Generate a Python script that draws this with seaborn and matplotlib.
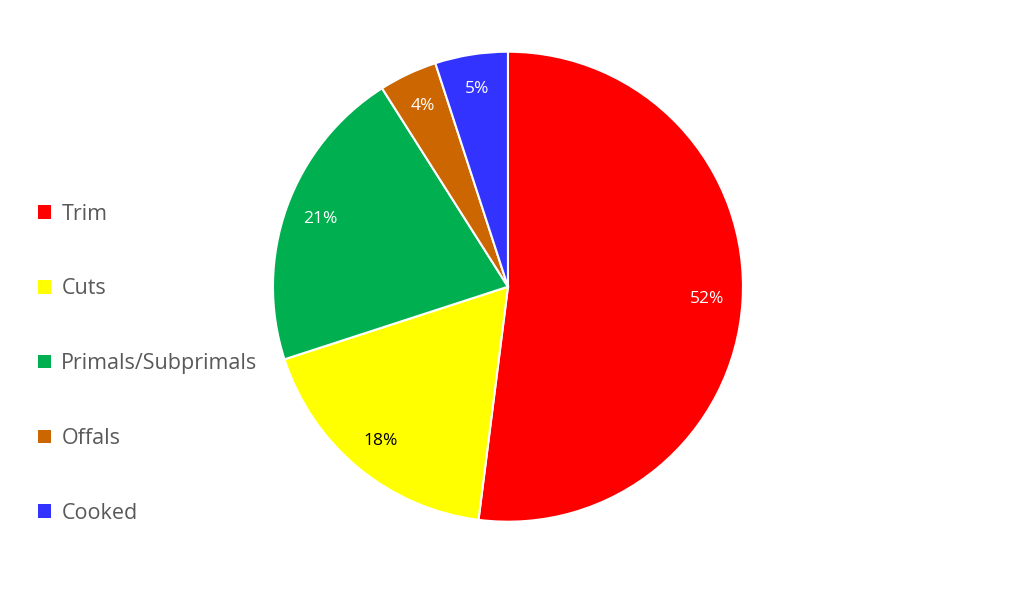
import matplotlib
matplotlib.use("Agg")
import matplotlib.pyplot as plt
from matplotlib.patches import Patch
import seaborn as sns

sns.set_theme(style="white")
plt.rcParams['font.family'] = ['Open Sans', 'DejaVu Sans']

categories = ["Trim", "Cuts", "Primals/Subprimals", "Offals", "Cooked"]
values = [52, 18, 21, 4, 5]
colors = ["#FF0000", "#FFFF00", "#00B050", "#CC6600", "#3333FF"]
text_colors = ["white", "black", "white", "white", "white"]

fig = plt.figure(figsize=(10.14, 6.14), dpi=100)
ax = fig.add_axes([0.501 - 0.2318, 0.533 - 0.3827, 0.4635, 0.7655])
wedges, texts, autotexts = ax.pie(
    values, colors=colors, startangle=90, counterclock=False,
    autopct="%1.0f%%", pctdistance=0.85, radius=1,
    wedgeprops=dict(edgecolor="white", linewidth=1.5),
)
for t, c in zip(autotexts, text_colors):
    t.set_color(c)
    t.set_fontsize(12.5)
ax.set_xlim(-1, 1)
ax.set_ylim(-1, 1)
ax.set_aspect("equal")

handles = [Patch(facecolor=c, edgecolor="none") for c in colors]
leg = fig.legend(handles, categories, loc="upper left", bbox_to_anchor=(0.018, 0.7),
                 frameon=False, fontsize=15.5, labelspacing=2.5,
                 handlelength=0.6, handleheight=0.6, handletextpad=0.5)
for t in leg.get_texts():
    t.set_color("#595959")

fig.savefig("out.png", dpi=100, facecolor="white")
